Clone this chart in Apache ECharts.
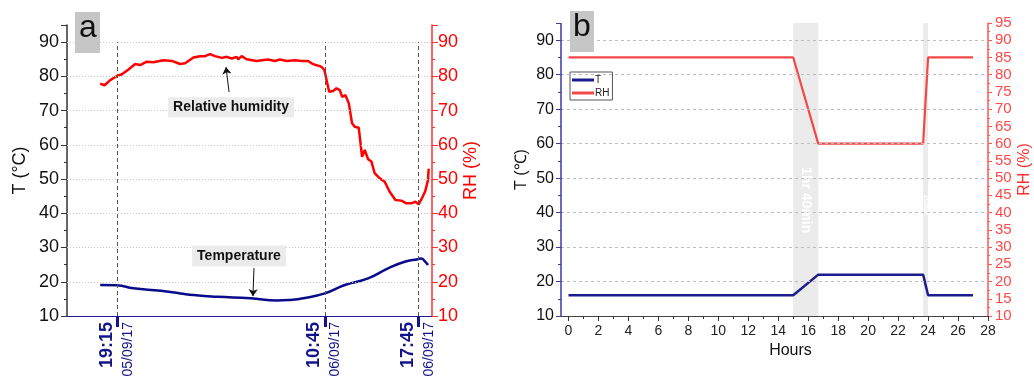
<!DOCTYPE html>
<html><head><meta charset="utf-8">
<script src="https://cdn.jsdelivr.net/npm/echarts@6/dist/echarts.min.js"></script>
<style>html,body{margin:0;padding:0;background:#fff}#c{width:1034px;height:379px}</style>
</head><body><div id="c"></div>
<script>
// ---------- Panel a (hours counted from 05/09/17 00:00) ----------
const rhHours = [17.98,18.30,18.73,19.23,19.60,20.09,20.59,20.96,21.46,21.95,22.70,23.33,23.94,24.32,24.94,25.43,25.81,26.18,26.55,27.05,27.42,27.80,28.17,28.29,28.54,28.91,29.66,30.03,30.52,31.02,31.40,31.90,32.51,33.01,33.50,33.76,34.00,34.38,34.55,34.72,35.07,35.37,35.62,35.87,36.04,36.29,36.54,36.78,36.98,37.28,37.53,37.73,37.98,38.23,38.47,38.85,39.22,39.59,40.02,40.46,40.84,41.21,41.51,41.75,42.00,42.25,42.45,42.50];
const rhValues = [77.9,77.4,78.9,80.1,80.6,82.0,83.6,83.3,84.3,84.1,84.7,84.5,83.6,83.8,85.5,85.9,85.9,86.5,85.9,85.4,85.7,85.2,85.7,85.0,85.9,85.0,84.5,84.7,84.9,84.5,84.9,84.5,84.7,84.5,84.5,83.8,83.4,83.0,82.6,81.8,75.5,75.7,76.5,76.0,74.0,74.5,72.1,66.3,65.3,65.0,56.5,58.5,55.8,55.1,51.7,50.2,49.2,46.3,43.9,43.7,42.9,42.9,43.4,42.6,44.4,46.5,49.7,53.0];
const tHours = [17.98,19.23,20.46,22.50,23.96,24.94,26.72,29.18,31.19,32.16,33.13,34.75,36.24,37.98,39.47,40.71,41.70,41.95,42.20,42.45];
const tValues = [19.05,18.95,18.1,17.35,16.6,16.1,15.6,15.2,14.5,14.7,15.2,16.6,19.05,21.0,23.9,25.85,26.6,26.8,26.05,24.9];
const markerHours = [19.25, 34.75, 41.75];
const markerTimes = ['19:15', '10:45', '17:45'];
const markerDates = ['05/09/17', '06/09/17', '06/09/17'];
const gridValues = [20, 30, 40, 50, 60, 70, 80, 90];

// ---------- Panel b ----------
const bHours = [0, 15, 16.67, 23.67, 24, 27];
const bT = [16, 16, 22, 22, 16, 16];
const bRH = [85, 85, 60, 60, 85, 85];
const bBands = [[15, 16.67, '1hr 40min'], [23.67, 24, '20min']];
const bBandLabelY = [43.6, 42.2];
const bHourTicks = [0,2,4,6,8,10,12,14,16,18,20,22,24,26,28];
const bMinorTicks = Array.from({length: 29}, (_, i) => i);
const bXMin = -0.5, bXMax = 28, yMin = 10, yMax = 95;

const FONT = 'Liberation Sans, Arial, sans-serif';
const NAVY = '#14148a';
const RED = '#ff0000';
const zip = (a, b) => a.map((v, i) => [v, b[i]]);

const chart = echarts.init(document.getElementById('c'), null, {renderer: 'canvas'});

const gridB = {left: 561, right: 46, top: 23, bottom: 63, outerBoundsMode: 'none'};

const option = {
  animation: false,
  textStyle: {fontFamily: FONT},
  grid: [
    {left: 67, right: 602, top: 25, bottom: 63, outerBoundsMode: 'none'},
    gridB,
    Object.assign({}, gridB)
  ],
  legend: {
    data: ['T', 'RH'],
    orient: 'vertical',
    left: 570, top: 72,
    itemWidth: 22, itemHeight: 3, itemGap: 3,
    icon: 'rect',
    borderColor: '#555', borderWidth: 1,
    padding: [3, 3, 2, 2],
    textStyle: {fontSize: 10, color: '#222', padding: [0, 0, 0, -4]}
  },
  xAxis: [
    {
      type: 'value', gridIndex: 0, position: 'bottom', min: 15.5, max: 42.75,
      axisLine: {onZero: false, lineStyle: {color: '#1c1c9c', width: 1}},
      axisTick: {customValues: markerHours, length: 11, lineStyle: {color: NAVY, width: 3}},
      axisLabel: {
        customValues: markerHours, rotate: 90, margin: 6,
        formatter: v => {
          const i = markerHours.findIndex(h => Math.abs(h - v) < 1e-6);
          return i < 0 ? '' : '{t|' + markerTimes[i] + '}\n{d|' + markerDates[i] + '}';
        },
        rich: {
          t: {fontSize: 18, fontWeight: 'bold', color: NAVY, lineHeight: 21, fontFamily: FONT},
          d: {fontSize: 14, color: NAVY, lineHeight: 21, fontFamily: FONT}
        }
      },
      splitLine: {show: false}
    },
    {
      // minor ticks of panel b's hour axis (overlay grid)
      type: 'value', gridIndex: 2, position: 'bottom', min: bXMin, max: bXMax,
      axisLine: {show: false, onZero: false},
      axisTick: {customValues: bMinorTicks, length: 3, lineStyle: {color: '#333'}},
      axisLabel: {show: false},
      splitLine: {show: false}
    },
    {
      type: 'value', gridIndex: 1, position: 'bottom', min: bXMin, max: bXMax,
      axisLine: {onZero: false, lineStyle: {color: '#444', width: 1}},
      axisTick: {customValues: bHourTicks, length: 5, lineStyle: {color: '#333'}},
      axisLabel: {customValues: bHourTicks, fontSize: 14, color: '#222', margin: 8},
      splitLine: {show: false},
      name: 'Hours', nameLocation: 'middle', nameGap: 25,
      nameTextStyle: {fontSize: 16, color: '#111', padding: [0, 0, 0, 32]}
    }
  ],
  yAxis: [
    {
      type: 'value', gridIndex: 0, min: yMin, max: yMax, interval: 10,
      axisLine: {show: true, onZero: false, lineStyle: {color: '#333', width: 1.5}},
      axisTick: {show: true, length: 6, lineStyle: {color: '#333'}},
      minorTick: {show: true, splitNumber: 2, length: 3, lineStyle: {color: '#333'}},
      axisLabel: {fontSize: 18, color: '#111', showMaxLabel: false, margin: 8},
      splitLine: {show: false},
      name: 'T (°C)', nameLocation: 'middle', nameGap: 38,
      nameTextStyle: {fontSize: 18, color: '#111'}
    },
    {
      type: 'value', gridIndex: 0, position: 'right', min: yMin, max: yMax, interval: 10,
      axisLine: {show: true, onZero: false, lineStyle: {color: '#ff3030', width: 1.5}},
      axisTick: {show: true, length: 6, lineStyle: {color: '#ff3030'}},
      minorTick: {show: true, splitNumber: 2, length: 3, lineStyle: {color: '#ff3030'}},
      axisLabel: {fontSize: 18, color: RED, showMaxLabel: false, margin: 6},
      splitLine: {show: false},
      name: 'RH (%)', nameLocation: 'middle', nameGap: 28,
      nameTextStyle: {fontSize: 18, color: RED}
    },
    {
      type: 'value', gridIndex: 1, position: 'left', min: yMin, max: yMax, interval: 10,
      axisLine: {show: false, onZero: false},
      axisTick: {show: true, length: 5, lineStyle: {color: '#3a3aa8'}},
      minorTick: {show: true, splitNumber: 2, length: 3, lineStyle: {color: '#3a3aa8'}},
      axisLabel: {fontSize: 16, color: '#111', showMaxLabel: false, margin: 7},
      splitLine: {show: false},
      name: 'T (℃)', nameLocation: 'middle', nameGap: 31,
      nameTextStyle: {fontSize: 16, color: '#111'}
    },
    {
      type: 'value', gridIndex: 1, position: 'right', min: yMin, max: yMax, interval: 5,
      axisLine: {show: true, onZero: false, lineStyle: {color: '#ff5555', width: 1.5}},
      axisTick: {show: true, length: 4, lineStyle: {color: '#ff5555'}},
      minorTick: {show: true, splitNumber: 2, length: 2, lineStyle: {color: '#ff5555'}},
      axisLabel: {fontSize: 15, color: '#ff4848', margin: 7},
      splitLine: {show: false},
      name: 'RH (%)', nameLocation: 'middle', nameGap: 29,
      nameTextStyle: {fontSize: 16, color: '#ff3030'}
    },
    {
      type: 'value', gridIndex: 2, min: yMin, max: yMax, show: false
    }
  ],
  series: [
    // decorations panel a
    {
      type: 'line', xAxisIndex: 0, yAxisIndex: 0, data: [], z: 1, silent: true,
      markLine: {
        silent: true, symbol: ['none', 'none'], label: {show: false},
        data: gridValues.map(v => ({yAxis: v, lineStyle: {color: '#c8c8c8', type: [1, 2], width: 1}}))
          .concat(markerHours.map(h => [
            {coord: [h, 10], lineStyle: {color: '#555', type: [4, 3], width: 1}},
            {coord: [h, 90]}
          ]))
      }
    },
    {
      name: 'RH-a', type: 'line', xAxisIndex: 0, yAxisIndex: 1, z: 3,
      data: zip(rhHours, rhValues), showSymbol: false, smooth: false,
      lineStyle: {color: RED, width: 2.5}, itemStyle: {color: RED},
      markLine: {
        silent: true, symbolSize: 7, label: {show: false},
        lineStyle: {color: '#111', width: 1, type: 'solid'},
        data: [[{coord: [27.60, 75.4], symbol: 'none'}, {coord: [27.37, 82.7], symbol: 'arrow'}]]
      },
      markPoint: {
        silent: true, symbol: 'rect', symbolSize: 1, itemStyle: {color: 'transparent'},
        label: {show: true, position: 'inside', formatter: '{b}', fontSize: 14, fontWeight: 'bold', color: '#111',
          backgroundColor: '#ebebeb', padding: [3, 5, 3, 5], fontFamily: FONT},
        data: [{name: 'Relative humidity', coord: [27.75, 71.0]}]
      }
    },
    {
      name: 'T-a', type: 'line', xAxisIndex: 0, yAxisIndex: 0, z: 3,
      data: zip(tHours, tValues), showSymbol: false, smooth: true,
      lineStyle: {color: '#0a0a8c', width: 2.5}, itemStyle: {color: '#0a0a8c'},
      markLine: {
        silent: true, symbolSize: 7, label: {show: false},
        lineStyle: {color: '#111', width: 1, type: 'solid'},
        data: [[{coord: [29.46, 24.0], symbol: 'none'}, {coord: [29.38, 15.8], symbol: 'arrow'}]]
      },
      markPoint: {
        silent: true, symbol: 'rect', symbolSize: 1, itemStyle: {color: 'transparent'},
        label: {show: true, position: 'inside', formatter: '{b}', fontSize: 14, fontWeight: 'bold', color: '#111',
          backgroundColor: '#ebebeb', padding: [4, 5, 3, 5], fontFamily: FONT},
        data: [{name: 'Temperature', coord: [28.34, 27.5]}]
      }
    },
    // decorations panel b
    {
      type: 'line', xAxisIndex: 2, yAxisIndex: 2, data: [], z: 1, silent: true,
      markLine: {
        silent: true, symbol: ['none', 'none'], label: {show: false},
        lineStyle: {color: '#bdbdbd', type: [3, 3], width: 1},
        data: gridValues.map(v => ({yAxis: v})).concat([[
          // left axis line of panel b
          {coord: [bXMin, yMin], lineStyle: {color: '#3a3aa8', type: 'solid', width: 1.5}},
          {coord: [bXMin, yMax]}
        ]])
      },
      markArea: {
        silent: true,
        itemStyle: {color: '#ebebeb'},
        label: {show: false},
        data: bBands.map(b => [{xAxis: b[0]}, {xAxis: b[1]}])
      },
      markPoint: {
        silent: true, symbol: 'rect', symbolSize: 1, itemStyle: {color: 'transparent'},
        label: {show: true, position: 'inside', formatter: '{b}', rotate: -90, color: '#fff',
          fontWeight: 'bold', fontFamily: FONT},
        data: bBands.map((b, i) => ({
          name: b[2], coord: [(b[0] + b[1]) / 2, bBandLabelY[i]],
          label: {fontSize: b[2] === '20min' ? 7 : 14}
        }))
      }
    },
    {
      name: 'T', type: 'line', xAxisIndex: 2, yAxisIndex: 2, z: 3,
      data: zip(bHours, bT), showSymbol: false,
      lineStyle: {color: '#1c1c8c', width: 2.5}, itemStyle: {color: '#1c1c8c'}
    },
    {
      name: 'RH', type: 'line', xAxisIndex: 2, yAxisIndex: 3, z: 3,
      data: zip(bHours, bRH), showSymbol: false,
      lineStyle: {color: '#f24848', width: 2.2}, itemStyle: {color: '#f24848'}
    }
  ],
  graphic: [
    {type: 'rect', left: 75, top: 12, shape: {width: 25, height: 41}, style: {fill: '#c6c6c6'}, z: 10},
    {type: 'text', left: 79, top: 12, style: {text: 'a', fontSize: 32, fill: '#111', fontFamily: FONT}, z: 11},
    {type: 'rect', left: 570, top: 11, shape: {width: 24, height: 41}, style: {fill: '#c6c6c6'}, z: 10},
    {type: 'text', left: 573, top: 11, style: {text: 'b', fontSize: 32, fill: '#111', fontFamily: FONT}, z: 11}
  ]
};
chart.setOption(option);
</script>
</body></html>
